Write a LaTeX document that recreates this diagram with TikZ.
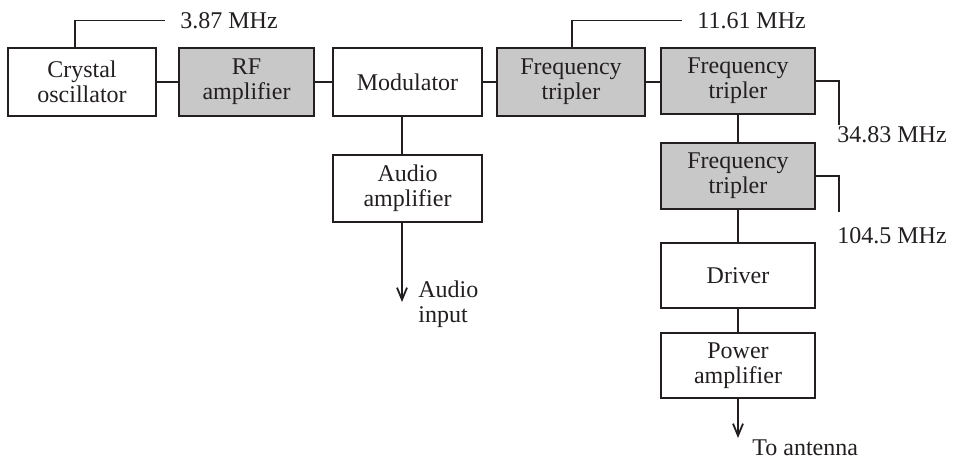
\documentclass[tikz,border=0pt]{standalone}
\usepackage{fontspec}
\setmainfont{Liberation Serif}
\usetikzlibrary{arrows.meta}
\definecolor{ink}{HTML}{231F20}
\definecolor{boxgray}{HTML}{C8C8C8}
\begin{document}
\begin{tikzpicture}[x=0.5pt,y=-0.5pt,
  blk/.style={draw=ink, line width=0.9pt, align=center, minimum width=74pt,
    minimum height=33.5pt, inner sep=0pt, text=ink,
    font=\fontsize{12}{12.5}\selectfont},
  gblk/.style={blk, fill=boxgray},
  wire/.style={draw=ink, line width=0.9pt},
  lbl/.style={font=\fontsize{12}{12.5}\selectfont, text=ink, inner sep=0pt, align=left},
  arr/.style={wire, -{Straight Barb[length=6pt,width=5pt,line width=0.9pt]}}
]
\useasboundingbox (0,0) rectangle (958,459);

% blocks
\node[blk, minimum width=74pt, minimum height=34pt] (cry) at (82,82) {Crystal\\oscillator};
\node[gblk, minimum width=67.5pt, minimum height=34pt] (rf) at (246.5,82) {RF\\amplifier};
\node[blk, minimum width=74.5pt, minimum height=34pt] (mod) at (407.5,82) {Modulator};
\node[gblk, minimum width=74pt, minimum height=34pt] (ft1) at (571,82) {Frequency\\tripler};
\node[gblk, minimum width=77pt, minimum height=33pt] (ft2) at (738,81) {Frequency\\tripler};
\node[gblk, minimum width=77pt, minimum height=33pt] (ft3) at (738,176) {Frequency\\tripler};
\node[blk, minimum width=77pt, minimum height=32.5pt] (drv) at (738,275.5) {Driver};
\node[blk, minimum width=77pt, minimum height=32.5pt] (pa) at (738,365.5) {Power\\amplifier};
\node[blk, minimum width=74.5pt, minimum height=33.5pt] (aa) at (407.5,188.5) {Audio\\amplifier};

% labels
\node[lbl, anchor=base west] (f1) at (180,29) {3.87 MHz};
\node[lbl, anchor=base west] (f2) at (697,29) {11.61 MHz};
\node[lbl, anchor=base west] (f3) at (837,143) {34.83 MHz};
\node[lbl, anchor=base west] (f4) at (837,244) {104.5 MHz};
\node[lbl, anchor=west] (ain) at (418,304) {Audio\\input};
\node[lbl, anchor=base west] (ant) at (752,455) {To antenna};

% free ends
\coordinate (t1) at (165,20.5);
\coordinate (t2) at (682,20.5);
\coordinate (t3) at (839,125);
\coordinate (t4) at (839,212);
\coordinate (a1) at (402,302);
\coordinate (a2) at (738,438);

% signal chain
\draw[wire] (cry) -- (rf);
\draw[wire] (rf) -- (mod);
\draw[wire] (mod) -- (ft1);
\draw[wire] (ft1.east) -- (ft1.east -| ft2.west);
\draw[wire] (ft2) -- (ft3);
\draw[wire] (ft3) -- (drv);
\draw[wire] (drv) -- (pa);
\draw[wire] ([xshift=-2.75pt]mod.south) -- ([xshift=-2.75pt]aa.north);

% frequency taps
\draw[wire] ([xshift=-3.5pt]cry.north) |- (t1);
\draw[wire] ([xshift=0.5pt]ft1.north) |- (t2);
\draw[wire] (ft2.east) -| (t3);
\draw[wire] (ft3.east) -| (t4);

% arrows
\draw[arr] ([xshift=-2.75pt]aa.south) -- (a1);
\draw[arr] (pa.south) -- (a2);
\end{tikzpicture}
\end{document}
